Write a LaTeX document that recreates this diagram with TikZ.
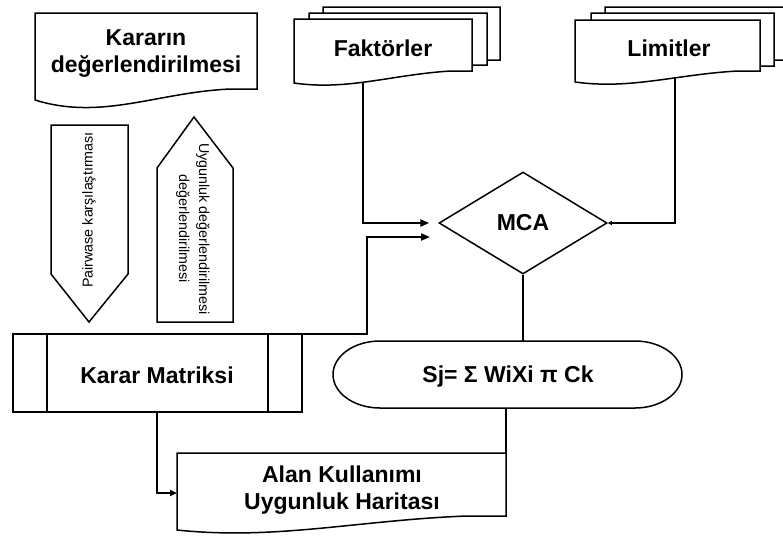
\documentclass[tikz,border=0pt]{standalone}
\usepackage{fontspec}
\setmainfont{Liberation Sans}
\usetikzlibrary{arrows.meta,shapes.geometric}

% document shape: left, top, right, bottom-left y, bottom-right y, dip of the wave
\newcommand\docshape[6]{%
  \draw[box] (#1,#2) -- (#3,#2) -- (#3,#5) -- ({#3-0.12*(#3-#1)},#5)
    .. controls ({#1+0.55*(#3-#1)},{#5+0.3*(#4-#5)}) and ({#1+0.3*(#3-#1)},{#4+2.6*#6})
    .. (#1,#4) -- cycle;}

\begin{document}
\begin{tikzpicture}[x=1pt,y=-1pt,
  box/.style={draw=black, line width=1.5pt, fill=white, line join=miter},
  link/.style={draw=black, line width=2.6pt},
  thinlink/.style={draw=black, line width=2pt},
  big/.style={font=\fontsize{23}{27}\selectfont\bfseries, align=center, inner sep=0pt},
  small/.style={font=\fontsize{14.3}{20}\selectfont, align=center, inner sep=0pt},
  tip/.style={-{Triangle[length=9pt,width=7pt]}},
  smalltip/.style={-{Triangle[length=7pt,width=6pt]}},
  tinytip/.style={-{Triangle[length=4pt,width=4pt]}}
]
\useasboundingbox (0,0) rectangle (783,536);
\clip (0,0) rectangle (783,536);

% decision node
\node[diamond, draw=black, fill=white, line width=1.5pt, minimum width=168pt,
      minimum height=102pt, big] (mca) at (523,223) {MCA};

% connector end points
\coordinate (faktout) at (363,70);
\coordinate (limout)  at (675,70);
\coordinate (matout)  at (302,334);
\coordinate (matdown) at (157,400);
\coordinate (mcain)   at (430,237);
\coordinate (sjtop)   at (523,350);
\coordinate (sjout)   at (506,400);
\coordinate (alantop) at (506,453);
\coordinate (alanin)  at (177,493);

% connectors
\draw[link, tip] (faktout) |- ([xshift=-9pt]mca.west);
\draw[link, tinytip] (limout) |- (mca.east);
\draw[thinlink, tip] (matout) -- (367,334) |- (mcain);
\draw[link] (mca.south) -- (sjtop);
\draw[link] (sjout) -- (alantop);
\draw[thinlink, smalltip] (matdown) |- (alanin);

% documents
\docshape{35}{13}{257}{100}{89}{8}
\docshape{323}{7}{500}{72}{60}{3}
\docshape{309}{13}{487}{77}{65}{3}
\docshape{294}{19}{472}{83}{71}{3}
\docshape{605}{7}{800}{72}{60}{3}
\docshape{591}{13}{774}{78}{66}{3}
\docshape{575}{20}{760}{82}{71}{3}
\docshape{177}{453}{506}{530}{516}{4}

% block arrows
\draw[box] (51,125) -- (128,125) -- (128,274) -- (89,322) -- (51,274) -- cycle;
\draw[box] (157,322) -- (157,168) -- (194,117) -- (233,168) -- (233,322) -- cycle;

% decision matrix box
\draw[box] (13,334) rectangle (302,412);
\draw[box] (47,334) -- (47,412);
\draw[box] (268,334) -- (268,412);

% formula terminator
\draw[box] (380,341) -- (635,341) arc[start angle=-90, end angle=90, x radius=47, y radius=33.5]
  -- (380,408) arc[start angle=90, end angle=270, x radius=47, y radius=33.5] -- cycle;

% labels
\node[big] (karar) at (146,54) {Kararın\\değerlendirilmesi};
\node[big] (fakt) at (383,48) {Faktörler};
\node[big] (lim) at (669,48) {Limitler};
\node[big] (mat) at (157,375) {Karar Matriksi};
\node[big] (sj) at (508,377) {Sj= Σ WiXi π Ck};
\node[big] (alan) at (342,490) {Alan Kullanımı\\Uygunluk Haritası};
\node[small, rotate=90] (pw) at (89,210) {Pairwase karşılaştırması};
\node[small, rotate=-90] (uy) at (193,229) {Uygunluk değerlendirilmesi\\değerlendirilmesi};
\end{tikzpicture}
\end{document}
